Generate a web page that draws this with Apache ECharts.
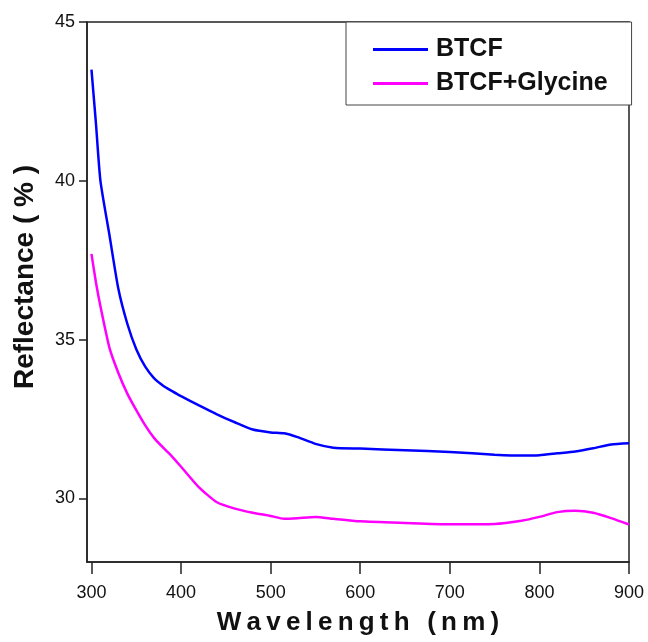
<!DOCTYPE html>
<html>
<head>
<meta charset="utf-8">
<script src="https://cdn.jsdelivr.net/npm/echarts@6/dist/echarts.min.js"></script>
<style>
  html, body { margin: 0; padding: 0; background: #fff; }
  #chart { width: 648px; height: 642px; }
</style>
</head>
<body>
<div id="chart"></div>
<script>
var wavelength = [300, 305, 310, 320, 330, 340, 350, 360, 370, 380, 390, 400, 420, 440, 460, 480,
                  500, 515, 530, 550, 570, 600, 650, 700, 750, 780, 800, 820, 840, 860, 880, 900];
var btcf = [43.5, 41.8, 40.0, 38.3, 36.6, 35.5, 34.7, 34.15, 33.78, 33.55, 33.38, 33.22, 32.93, 32.65, 32.4, 32.17,
            32.08, 32.05, 31.93, 31.72, 31.6, 31.57, 31.52, 31.46, 31.38, 31.35, 31.36, 31.42, 31.48, 31.58, 31.7, 31.74];
var btcfGly = [37.7, 36.8, 36.05, 34.75, 33.95, 33.3, 32.78, 32.3, 31.9, 31.6, 31.32, 31.0, 30.35, 29.88, 29.68, 29.55,
               29.45, 29.36, 29.38, 29.42, 29.36, 29.28, 29.23, 29.19, 29.2, 29.3, 29.42, 29.57, 29.61, 29.55, 29.38, 29.18];
var xTicks = [300, 400, 500, 600, 700, 800, 900];
var yTicks = [30, 35, 40, 45];

function pairs(xs, ys) {
    return xs.map(function (x, i) { return [x, ys[i]]; });
}

var spaced = function (s) { return s.split('').join('\u2009'); };

var myChart = echarts.init(document.getElementById('chart'));
var font = '"Liberation Sans", Arial, sans-serif';

var option = {
    backgroundColor: '#fff',
    animation: false,
    grid: {
        left: 87, right: 19, top: 22, bottom: 80,
        show: true,
        borderColor: '#222',
        borderWidth: 1.5
    },
    legend: {
        orient: 'vertical',
        left: 346,
        top: 22,
        padding: [15, 24, 9, 27],
        itemGap: 9,
        itemWidth: 55,
        itemHeight: 3,
        icon: 'rect',
        backgroundColor: '#fff',
        borderColor: '#444',
        borderWidth: 1,
        borderRadius: 0,
        textStyle: { fontFamily: font, fontSize: 25, fontWeight: 'bold', color: '#111', padding: [0, 0, 0, 3] },
        data: ['BTCF', 'BTCF+Glycine']
    },
    xAxis: {
        type: 'value',
        min: 295,
        max: 900,
        name: spaced('Wavelength (nm)'),
        nameLocation: 'middle',
        nameGap: 48,
        nameTextStyle: { fontFamily: font, fontSize: 26, fontWeight: 'bold', color: '#111' },
        axisLine: { show: true, lineStyle: { color: '#222', width: 1.5 } },
        axisTick: { show: true, length: 12, inside: false, customValues: xTicks, lineStyle: { color: '#222', width: 1.5 } },
        axisLabel: { customValues: xTicks, margin: 22, fontFamily: font, fontSize: 18, color: '#111' },
        splitLine: { show: false }
    },
    yAxis: {
        type: 'value',
        min: 28,
        max: 45,
        name: 'Reflectance ( % )',
        nameLocation: 'middle',
        nameGap: 48,
        nameTextStyle: { fontFamily: font, fontSize: 28, fontWeight: 'bold', color: '#111', padding: [0, 0, 0, 30] },
        axisLine: { show: true, lineStyle: { color: '#222', width: 1.5 } },
        axisTick: { show: true, length: 8, customValues: yTicks, lineStyle: { color: '#222', width: 1.5 } },
        axisLabel: { customValues: yTicks, margin: 12, fontFamily: font, fontSize: 18, color: '#111' },
        splitLine: { show: false }
    },
    series: [
        {
            name: 'BTCF',
            type: 'line',
            data: pairs(wavelength, btcf),
            smooth: 0.2,
            symbol: 'none',
            lineStyle: { color: '#0000ff', width: 2.5 },
            itemStyle: { color: '#0000ff' }
        },
        {
            name: 'BTCF+Glycine',
            type: 'line',
            data: pairs(wavelength, btcfGly),
            smooth: 0.2,
            symbol: 'none',
            lineStyle: { color: '#ff00ff', width: 2.5 },
            itemStyle: { color: '#ff00ff' }
        }
    ]
};

myChart.setOption(option);
</script>
</body>
</html>
